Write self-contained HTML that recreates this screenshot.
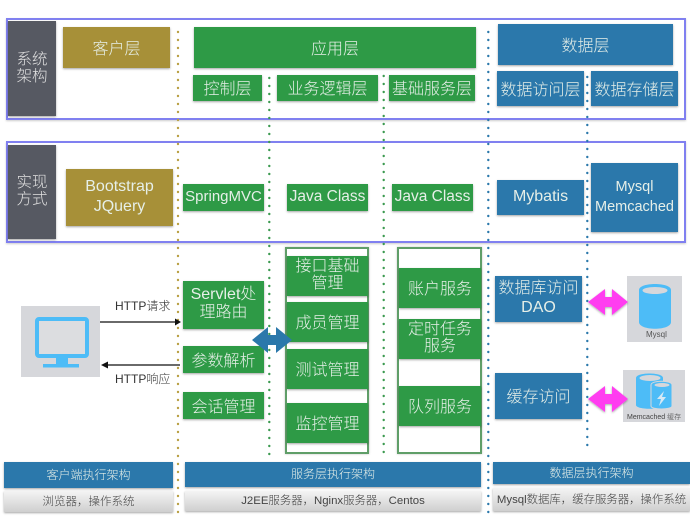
<!DOCTYPE html>
<html>
<head>
<meta charset="utf-8">
<style>
html,body{margin:0;padding:0;background:#fff}
#c{position:relative;width:690px;height:518px;overflow:hidden;background:#fff;font-family:"Liberation Sans","Noto Sans CJK SC",sans-serif;font-weight:300}
.b{position:absolute;display:flex;align-items:center;justify-content:center;text-align:center;color:#e6efe8;box-sizing:border-box;box-shadow:0 1px 2px rgba(0,0,0,.35);white-space:nowrap;padding-bottom:2px}
.g{background:#2e9a46}
.u{background:#2b78ab}
.o{background:#a79038}
.d{background:#565962;color:#e0e0e0}
.w{background:linear-gradient(#f4f4f4,#cfcfcf);color:#444}
.f{position:absolute;box-sizing:border-box;border:2px solid #8080f0;box-shadow:0 1px 2px rgba(0,0,0,.2)}
.h{position:absolute;box-sizing:border-box;border:2px solid #5f9e68;box-shadow:0 0 2px rgba(0,0,0,.25)}
.t{position:absolute;color:#333;font-size:12px;white-space:nowrap}
.card{position:absolute;background:#d6d7db}
svg{position:absolute;left:0;top:0}
</style>
</head>
<body>
<div id="c">
<div class="f" style="left:6px;top:18px;width:680px;height:102px"></div>
<div class="f" style="left:6px;top:141px;width:680px;height:102px"></div>

<svg width="690" height="518" viewBox="0 0 690 518" fill="none" stroke-width="2.4" stroke-linecap="round" stroke-dasharray="0 8">
<line x1="178" y1="32" x2="178" y2="518" stroke="#b9a044"/>
<line x1="269.300" y1="78" x2="269.300" y2="460" stroke="#3c9a50"/>
<line x1="383.700" y1="76" x2="383.700" y2="460" stroke="#3c9a50"/>
<line x1="488.300" y1="32" x2="488.300" y2="518" stroke="#2b78ab"/>
<line x1="587.300" y1="77" x2="587.300" y2="452" stroke="#2b78ab"/>
</svg>

<div class="b d" style="left:8px;top:21px;width:48px;height:95px;font-size:15.500px;line-height:17px">系统<br>架构</div>
<div class="b d" style="left:8px;top:145px;width:48px;height:94px;font-size:15.500px;line-height:17px">实现<br>方式</div>

<div class="b o" style="left:63px;top:27px;width:107px;height:41px;font-size:16px">客户层</div>
<div class="b g" style="left:194px;top:27px;width:282px;height:41px;font-size:16px">应用层</div>
<div class="b g" style="left:193px;top:75px;width:69px;height:26px;font-size:16px">控制层</div>
<div class="b g" style="left:277px;top:75px;width:101px;height:26px;font-size:16px">业务逻辑层</div>
<div class="b g" style="left:389px;top:75px;width:86px;height:26px;font-size:16px">基础服务层</div>
<div class="b u" style="left:498px;top:24px;width:175px;height:41px;font-size:16px">数据层</div>
<div class="b u" style="left:497px;top:71px;width:87px;height:35px;font-size:16px">数据访问层</div>
<div class="b u" style="left:591px;top:71px;width:87px;height:35px;font-size:16px">数据存储层</div>

<div class="b o" style="left:66px;top:169px;width:107px;height:57px;font-size:16px;line-height:20px">Bootstrap<br>JQuery</div>
<div class="b g" style="left:183px;top:184px;width:81px;height:27px;font-size:15px">SpringMVC</div>
<div class="b g" style="left:287px;top:184px;width:81px;height:27px;font-size:15.500px">Java Class</div>
<div class="b g" style="left:392px;top:184px;width:81px;height:27px;font-size:15.500px">Java Class</div>
<div class="b u" style="left:497px;top:180px;width:87px;height:35px;font-size:16px">Mybatis</div>
<div class="b u" style="left:591px;top:163px;width:87px;height:69px;font-size:14.500px;line-height:20px">Mysql<br>Memcached</div>

<div class="b g" style="left:183px;top:281px;width:81px;height:48px;font-size:16px;line-height:18px">Servlet处<br>理路由</div>
<div class="b g" style="left:183px;top:346px;width:81px;height:27px;font-size:16px">参数解析</div>
<div class="b g" style="left:183px;top:392px;width:81px;height:27px;font-size:16px">会话管理</div>

<div class="h" style="left:285px;top:247px;width:84px;height:207px"></div>
<div class="b g" style="left:287px;top:256px;width:81px;height:40px;font-size:16px;line-height:17px">接口基础<br>管理</div>
<div class="b g" style="left:287px;top:302px;width:81px;height:40px;font-size:16px">成员管理</div>
<div class="b g" style="left:287px;top:349px;width:81px;height:40px;font-size:16px">测试管理</div>
<div class="b g" style="left:287px;top:403px;width:81px;height:40px;font-size:16px">监控管理</div>

<div class="h" style="left:397px;top:247px;width:85px;height:207px"></div>
<div class="b g" style="left:399px;top:268px;width:82px;height:40px;font-size:16px">账户服务</div>
<div class="b g" style="left:399px;top:319px;width:82px;height:40px;font-size:16px;line-height:17px">定时任务<br>服务</div>
<div class="b g" style="left:399px;top:386px;width:82px;height:40px;font-size:16px">队列服务</div>

<div class="b u" style="left:495px;top:276px;width:87px;height:46px;font-size:16px;line-height:19px">数据库访问<br>DAO</div>
<div class="b u" style="left:495px;top:373px;width:87px;height:46px;font-size:16px">缓存访问</div>

<div class="card" style="left:21px;top:306px;width:79px;height:71px"></div>
<div class="card" style="left:627px;top:276px;width:55px;height:66px"></div>
<div class="card" style="left:623px;top:370px;width:62px;height:52px"></div>

<svg width="690" height="518" viewBox="0 0 690 518">
<defs>
<filter id="s" x="-20%" y="-20%" width="140%" height="150%"><feDropShadow dx="0" dy="1" stdDeviation="1" flood-opacity=".35"/></filter>
</defs>
<!-- monitor -->
<rect x="37" y="319" width="50" height="37" rx="2" fill="#dcdde0" stroke="#4dbcf7" stroke-width="4"/>
<rect x="56" y="358" width="12" height="6" fill="#4dbcf7"/>
<rect x="43" y="364" width="36" height="3.500" fill="#4dbcf7"/>
<!-- http arrows -->
<line x1="100" y1="322" x2="176" y2="322" stroke="#111" stroke-width="1.200"/>
<polygon points="181,322 175,318.500 175,325.500" fill="#111"/>
<line x1="108" y1="365" x2="180" y2="365" stroke="#111" stroke-width="1.200"/>
<polygon points="101,365 108,361.500 108,368.500" fill="#111"/>
<!-- blue double arrow -->
<polygon points="252,340 268,327 268,335 276,335 276,327 292,340 276,353 276,345 268,345 268,353" fill="#2b78ab"/>
<!-- magenta arrows -->
<polygon points="588,302 605,289 605,297 612,297 612,289 628,302 612,315 612,307 605,307 605,315" fill="#ff3df0" filter="url(#s)"/>
<polygon points="588,399 605,386 605,394 612,394 612,386 628,399 612,412 612,404 605,404 605,412" fill="#ff3df0" filter="url(#s)"/>
<!-- mysql cylinder -->
<path d="M639 290 C639 282 671 282 671 290 V322 C671 331 639 331 639 322 Z" fill="#4dbcf7"/>
<ellipse cx="655" cy="290.500" rx="12.500" ry="3.500" fill="#d6d7db"/>
<!-- memcached cylinders -->
<path d="M636 378 C636 372 663 372 663 378 V405 C663 410 636 410 636 405 Z" fill="#4dbcf7"/>
<ellipse cx="650" cy="378" rx="10.500" ry="3" fill="#d6d7db"/>
<path d="M651 385 C651 380 672 380 672 385 V406 C672 410 651 410 651 406 Z" fill="#4dbcf7" stroke="#d6d7db" stroke-width="1"/>
<ellipse cx="662" cy="385" rx="7.500" ry="2" fill="#d6d7db"/>
<polygon points="664,391 657,399 661,399 659,406 666,397 662,397" fill="#d6e9f5"/>
</svg>

<div class="t" style="left:115px;top:297px">HTTP请求</div>
<div class="t" style="left:115px;top:370px">HTTP响应</div>
<div class="t" style="left:646px;top:330px;font-size:8px;color:#555">Mysql</div>
<div class="t" style="left:627px;top:412px;font-size:7px;color:#444">Memcached 缓存</div>

<div class="b u" style="left:4px;top:462px;width:169px;height:26px;font-size:12px">客户端执行架构</div>
<div class="b w" style="left:4px;top:491px;width:169px;height:21px;font-size:11.500px">浏览器，操作系统</div>
<div class="b u" style="left:185px;top:462px;width:296px;height:25px;font-size:12px">服务层执行架构</div>
<div class="b w" style="left:185px;top:491px;width:296px;height:20px;font-size:11.400px">J2EE服务器，Nginx服务器，Centos</div>
<div class="b u" style="left:493px;top:462px;width:197px;height:22px;font-size:12px">数据层执行架构</div>
<div class="b w" style="left:493px;top:488px;width:197px;height:23px;font-size:11.400px">Mysql数据库，缓存服务器，操作系统</div>
</div>
</body>
</html>
